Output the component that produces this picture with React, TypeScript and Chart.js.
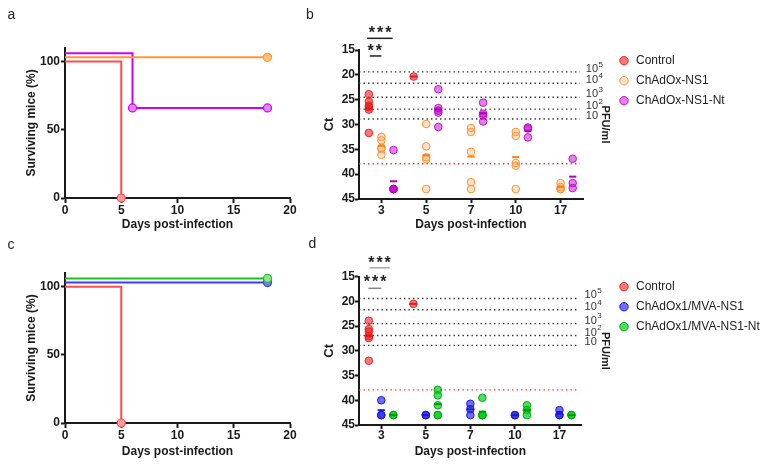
import React, { useEffect, useRef } from "react";
import { Chart, registerables } from "chart.js";

Chart.register(...registerables);

const FONT = "'Liberation Sans', Arial, Helvetica, sans-serif";
const INK = "#1a1a1a";

// ---------- Survival curves (panels a and c) ----------
const survivalXTicks = [0, 5, 10, 15, 20];
const survivalYTicks = [0, 50, 100];
const survControlDays = [0, 5];
const survControlPct = [100, 0];
const survNS1Days = [0, 18];
const survNS1Pct = [103, 103];
const survNS1NtDays = [0, 6, 18];
const survNS1NtPct = [106, 66, 66];
const survMvaDays = [0, 18];
const survMvaPct = [103, 103];
const survMvaNtDays = [0, 18];
const survMvaNtPct = [106, 106];

// ---------- Ct values (panels b and d) ----------
const dayLabels = ["3", "5", "7", "10", "17"];
const ctTicks = [15, 20, 25, 30, 35, 40, 45];
const pfuLevelsCt = [19.4, 21.7, 24.5, 26.9, 28.9];
const pfuExponents = ["5", "4", "3", "2", ""];
const lodCt = 37.9;

const ctControlB = [[23.9, 25.4, 26.2, 26.5, 27.0, 31.7], [20.35], [], [], []];
const ctNS1B = [
  [32.5, 33.2, 34.7, 34.9, 36.1],
  [29.9, 34.4, 36.6, 37.0, 43.0],
  [30.7, 31.5, 35.5, 41.6, 43.0],
  [31.5, 32.3, 37.75, 38.3, 43.0],
  [41.8, 42.6, 43.0, 43.0],
];
const ctNS1NtB = [
  [35.15, 43, 43, 43, 43],
  [22.9, 26.7, 27.2, 27.6, 30.5],
  [25.6, 27.8, 28.2, 29.4],
  [30.6, 30.8, 32.6],
  [36.9, 41.8, 42.8],
];

const ctControlD = [[23.9, 25.6, 26.1, 27.0, 27.4, 32.0], [20.5], [], [], []];
const ctMvaD = [[40.0, 43, 43], [43, 43], [40.7, 41.8, 43], [43, 43], [42.0, 43, 43]];
const ctMvaNtD = [
  [43, 43],
  [37.9, 39.0, 41.0, 43, 43],
  [39.5, 43, 43, 43, 43],
  [41.0, 42.0, 43],
  [43, 43],
];

// significance annotations (text, text Ct, bar Ct, bar from/to in day-index units)
const sigTextB = ["***", "**"];
const sigTextCtB = [10.7, 14.3];
const sigTextXB = [-0.03, -0.15];
const sigBarCtB = [12.65, 16.2];
const sigBarFromB = [-0.32, -0.26];
const sigBarToB = [0.25, 0.0];

const sigTextD = ["***", "***"];
const sigTextCtD = [11.3, 15.3];
const sigTextXD = [-0.04, -0.14];
const sigBarCtD = [13.2, 17.35];
const sigBarFromD = [-0.26, -0.29];
const sigBarToD = [0.19, 0.0];

const bold12 = { family: FONT, size: 12, weight: "bold" as const };

function pts(days: number[], vals: number[]) {
  return days.map((d, i) => ({ x: d, y: vals[i] }));
}

type Line = { label: string; days: number[]; pct: number[]; line: string; fill: string };

function survivalConfig(lines: Line[], geo: { padTop: number; xH: number; xPad: number; titlePb: number }) {
  return {
    type: "line",
    data: {
      datasets: lines.map((l) => ({
        label: l.label,
        data: pts(l.days, l.pct),
        stepped: true,
        borderColor: l.line,
        borderWidth: 2,
        fill: false,
        pointRadius: l.pct.map((_, i) => (i === 0 ? 0 : 4)),
        pointBackgroundColor: l.fill,
        pointBorderColor: l.line,
        pointBorderWidth: 1.2,
        clip: false,
      })),
    },
    options: {
      responsive: false,
      devicePixelRatio: 1,
      animation: false,
      events: [],
      layout: { padding: { top: geo.padTop, left: 24, right: 10, bottom: 0 } },
      plugins: { legend: { display: false }, tooltip: { enabled: false } },
      scales: {
        x: {
          type: "linear",
          min: 0,
          max: 20,
          afterBuildTicks: (s: any) => {
            s.ticks = survivalXTicks.map((v) => ({ value: v }));
          },
          afterFit: (s: any) => {
            s.height = geo.xH;
          },
          grid: { display: true, drawOnChartArea: false, drawTicks: true, tickLength: 5, tickWidth: 2, tickColor: INK },
          border: { display: true, width: 2, color: INK },
          ticks: { font: bold12, color: INK, padding: geo.xPad, maxRotation: 0 },
          title: { display: true, text: "Days post-infection", font: bold12, color: INK, padding: { top: 0, bottom: geo.titlePb } },
        },
        y: {
          type: "linear",
          min: 0,
          max: 110,
          afterBuildTicks: (s: any) => {
            s.ticks = survivalYTicks.map((v) => ({ value: v }));
          },
          afterFit: (s: any) => {
            s.width = 41;
          },
          grid: { display: true, drawOnChartArea: false, drawTicks: true, tickLength: 4, tickWidth: 2, tickColor: INK },
          border: { display: true, width: 2, color: INK },
          ticks: { font: bold12, color: INK, padding: 1 },
          title: { display: true, text: "Surviving mice (%)", font: bold12, color: INK, padding: { top: 0, bottom: 0 } },
        },
      },
    },
  } as any;
}

type Group = { label: string; values: number[][]; offset: number; fill: string; stroke: string; mean: string };
type Sig = { text: string[]; textCt: number[]; textX: number[]; barCt: number[]; from: number[]; to: number[]; barColor: string[] };
type CtGeo = { padTop: number; x2H: number; padRight: number; y2W: number; legendW: number; xH: number; xPad: number; titlePb: number };

function ctConfig(groups: Group[], geo: CtGeo, sig: Sig) {
  const datasets: any[] = [];
  groups.forEach((g) => {
    datasets.push({
      type: "scatter",
      label: g.label,
      data: g.values.flatMap((arr, i) => arr.map((v) => ({ x: i + g.offset, y: v }))),
      backgroundColor: g.fill,
      borderColor: g.stroke,
      borderWidth: 1,
      pointRadius: 3.8,
      pointStyle: "circle",
      order: 1,
      clip: false,
      xAxisID: "x",
      yAxisID: "y",
    });
  });
  groups.forEach((g) => {
    datasets.push({
      type: "scatter",
      label: g.label + " mean",
      data: g.values
        .map((arr, i) => (arr.length ? { x: i + g.offset, y: arr.reduce((a, b) => a + b, 0) / arr.length } : null))
        .filter((p) => p !== null),
      pointStyle: "line",
      pointRadius: 3.6,
      borderWidth: 2,
      borderColor: g.mean,
      backgroundColor: g.mean,
      order: 0,
      clip: false,
      xAxisID: "x",
      yAxisID: "y",
    });
  });

  const lineEndX = 4.43;
  const refLines = {
    id: "refLines",
    beforeDatasetsDraw(chart: any) {
      const { ctx, scales } = chart;
      const x = scales.x;
      const y = scales.y;
      const x0 = x.getPixelForValue(-0.5);
      const x1 = x.getPixelForValue(lineEndX);
      ctx.save();
      ctx.lineWidth = 1.4;
      ctx.setLineDash([1.4, 3.1]);
      pfuLevelsCt.forEach((lv, i) => {
        const py = y.getPixelForValue(lv);
        ctx.strokeStyle = "#333";
        ctx.beginPath();
        ctx.moveTo(x0, py);
        ctx.lineTo(x1, py);
        ctx.stroke();
        ctx.fillStyle = "#333";
        ctx.textBaseline = "middle";
        ctx.textAlign = "left";
        ctx.font = `11px ${FONT}`;
        const tx = x1 + 6;
        ctx.fillText("10", tx, py - 3);
        if (pfuExponents[i]) {
          const w = ctx.measureText("10").width;
          ctx.font = `8px ${FONT}`;
          ctx.fillText(pfuExponents[i], tx + w + 0.5, py - 7.5);
        }
      });
      const ly = y.getPixelForValue(lodCt);
      ctx.strokeStyle = "#ff3030";
      ctx.beginPath();
      ctx.moveTo(x0, ly);
      ctx.lineTo(x1, ly);
      ctx.stroke();
      ctx.restore();
    },
  };

  const sigPlugin = {
    id: "sig",
    afterDraw(chart: any) {
      const { ctx, scales } = chart;
      const x = scales.x;
      const y = scales.y;
      ctx.save();
      sig.text.forEach((t, i) => {
        ctx.strokeStyle = sig.barColor[i];
        ctx.lineWidth = 1.5;
        ctx.beginPath();
        const by = y.getPixelForValue(sig.barCt[i]);
        ctx.moveTo(x.getPixelForValue(sig.from[i]), by);
        ctx.lineTo(x.getPixelForValue(sig.to[i]), by);
        ctx.stroke();
        const fs = 16;
        ctx.font = `bold ${fs}px ${FONT}`;
        (ctx as any).letterSpacing = "2px";
        ctx.fillStyle = "#222";
        ctx.textAlign = "center";
        ctx.textBaseline = "alphabetic";
        ctx.fillText(t, x.getPixelForValue(sig.textX[i]) + 1, y.getPixelForValue(sig.textCt[i]) + 0.57 * fs);
      });
      ctx.restore();
    },
  };

  return {
    type: "scatter",
    data: { datasets },
    plugins: [refLines, sigPlugin],
    options: {
      responsive: false,
      devicePixelRatio: 1,
      animation: false,
      events: [],
      layout: { padding: { top: geo.padTop, left: 28, right: geo.padRight, bottom: 0 } },
      plugins: {
        tooltip: { enabled: false },
        legend: {
          display: true,
          position: "right",
          align: "start",
          maxWidth: geo.legendW,
          labels: {
            usePointStyle: true,
            boxWidth: 12,
            boxHeight: 6,
            padding: 8,
            color: "#222",
            font: { family: FONT, size: 12 },
            filter: (item: any) => !String(item.text).endsWith(" mean"),
          },
        },
      },
      scales: {
        x: {
          type: "linear",
          position: "bottom",
          min: -0.5,
          max: 4.5,
          afterBuildTicks: (s: any) => {
            s.ticks = dayLabels.map((_, i) => ({ value: i }));
          },
          afterFit: (s: any) => {
            s.height = geo.xH;
          },
          grid: { display: true, drawOnChartArea: false, drawTicks: true, tickLength: 4, tickWidth: 2, tickColor: INK },
          border: { display: true, width: 2, color: INK },
          ticks: {
            font: bold12,
            color: INK,
            padding: geo.xPad,
            maxRotation: 0,
            callback: (v: any) => dayLabels[Math.round(Number(v))] ?? "",
          },
          title: { display: true, text: "Days post-infection", font: bold12, color: INK, padding: { top: 0, bottom: geo.titlePb } },
        },
        y: {
          type: "linear",
          position: "left",
          min: 15,
          max: 45,
          reverse: true,
          afterBuildTicks: (s: any) => {
            s.ticks = ctTicks.map((v) => ({ value: v }));
          },
          afterFit: (s: any) => {
            s.width = 41;
          },
          grid: { display: true, drawOnChartArea: false, drawTicks: true, tickLength: 4, tickWidth: 2, tickColor: INK },
          border: { display: true, width: 2, color: INK },
          ticks: { font: bold12, color: INK, padding: 0 },
          title: { display: true, text: "Ct", font: { family: FONT, size: 13, weight: "bold" }, color: INK, padding: { top: 3.8, bottom: 0 } },
        },
        x2: {
          type: "linear",
          position: "top",
          display: true,
          grid: { display: false },
          border: { display: false },
          ticks: { display: false },
          afterFit: (s: any) => {
            s.height = geo.x2H;
          },
        },
        y2: {
          type: "linear",
          position: "right",
          display: true,
          grid: { display: false },
          border: { display: false },
          ticks: { display: false },
          title: { display: true, text: "PFU/ml", font: { family: FONT, size: 11, weight: "bold" }, color: INK, padding: { top: -2, bottom: 0 } },
          afterFit: (s: any) => {
            s.width = geo.y2W;
          },
        },
      },
    },
  } as any;
}

export default function App() {
  const aRef = useRef<HTMLCanvasElement>(null);
  const bRef = useRef<HTMLCanvasElement>(null);
  const cRef = useRef<HTMLCanvasElement>(null);
  const dRef = useRef<HTMLCanvasElement>(null);

  useEffect(() => {
    const red = { line: "#ff4d4d", fill: "#ff9a9a" };
    const charts: Chart[] = [];
    charts.push(
      new Chart(
        aRef.current!,
        survivalConfig(
          [
            { label: "ChAdOx-NS1", days: survNS1Days, pct: survNS1Pct, line: "#ff9933", fill: "#ffc07a" },
            { label: "ChAdOx-NS1-Nt", days: survNS1NtDays, pct: survNS1NtPct, line: "#cc00ff", fill: "#e387f2" },
            { label: "Control", days: survControlDays, pct: survControlPct, ...red },
          ],
          { padTop: 47.8, xH: 34, xPad: 0, titlePb: 0 }
        )
      )
    );
    charts.push(
      new Chart(
        cRef.current!,
        survivalConfig(
          [
            { label: "ChAdOx1/MVA-NS1-Nt", days: survMvaNtDays, pct: survMvaNtPct, line: "#1ec21e", fill: "#8ee68e" },
            { label: "ChAdOx1/MVA-NS1", days: survMvaDays, pct: survMvaPct, line: "#3c3cff", fill: "#7a7af0" },
            { label: "Control", days: survControlDays, pct: survControlPct, ...red },
          ],
          { padTop: 41, xH: 42, xPad: 0, titlePb: 6 }
        )
      )
    );
    charts.push(
      new Chart(
        bRef.current!,
        ctConfig(
          [
            { label: "Control", values: ctControlB, offset: -0.28, fill: "rgba(240,30,30,0.6)", stroke: "rgba(225,30,30,0.9)", mean: "#e01818" },
            { label: "ChAdOx-NS1", values: ctNS1B, offset: 0, fill: "rgba(255,160,80,0.3)", stroke: "#ff9236", mean: "#ff8000" },
            { label: "ChAdOx-NS1-Nt", values: ctNS1NtB, offset: 0.27, fill: "rgba(200,0,210,0.5)", stroke: "rgba(185,0,195,0.85)", mean: "#b000c0" },
          ],
          { padTop: 46.7, x2H: 3.3, padRight: 43, y2W: 27, legendW: 115, xH: 33, xPad: 0, titlePb: 0 },
          { text: sigTextB, textCt: sigTextCtB, textX: sigTextXB, barCt: sigBarCtB, from: sigBarFromB, to: sigBarToB, barColor: ["#222", "#222"] }
        )
      )
    );
    charts.push(
      new Chart(
        dRef.current!,
        ctConfig(
          [
            { label: "Control", values: ctControlD, offset: -0.28, fill: "rgba(240,30,30,0.6)", stroke: "rgba(225,30,30,0.9)", mean: "#e01818" },
            { label: "ChAdOx1/MVA-NS1", values: ctMvaD, offset: 0, fill: "rgba(30,30,240,0.65)", stroke: "rgba(20,20,220,0.9)", mean: "#1a1ad0" },
            { label: "ChAdOx1/MVA-NS1-Nt", values: ctMvaNtD, offset: 0.27, fill: "rgba(0,210,40,0.72)", stroke: "rgba(0,160,0,0.9)", mean: "#009a00" },
          ],
          { padTop: 40.7, x2H: 4, padRight: 8, y2W: 28.3, legendW: 150, xH: 40, xPad: -1, titlePb: 6 },
          { text: sigTextD, textCt: sigTextCtD, textX: sigTextXD, barCt: sigBarCtD, from: sigBarFromD, to: sigBarToD, barColor: ["#a8a8a8", "#888"] }
        )
      )
    );
    return () => charts.forEach((c) => c.destroy());
  }, []);

  const label = (t: string, left: number, top: number) => (
    <div style={{ position: "absolute", left, top, fontSize: 14, lineHeight: "14px", fontFamily: FONT, color: "#222" }}>{t}</div>
  );

  return (
    <div style={{ position: "absolute", left: 0, top: 0, width: 768, height: 465, overflow: "hidden", background: "#fff" }}>
      <canvas ref={aRef} width={300} height={232} style={{ position: "absolute", left: 0, top: 0 }} />
      <canvas ref={cRef} width={300} height={233} style={{ position: "absolute", left: 0, top: 232 }} />
      <canvas ref={bRef} width={478} height={232} style={{ position: "absolute", left: 290, top: 0 }} />
      <canvas ref={dRef} width={478} height={233} style={{ position: "absolute", left: 290, top: 232 }} />
      {label("a", 7.5, 6.5)}
      {label("b", 306, 6.5)}
      {label("c", 7.5, 236.5)}
      {label("d", 308.5, 236)}
    </div>
  );
}
